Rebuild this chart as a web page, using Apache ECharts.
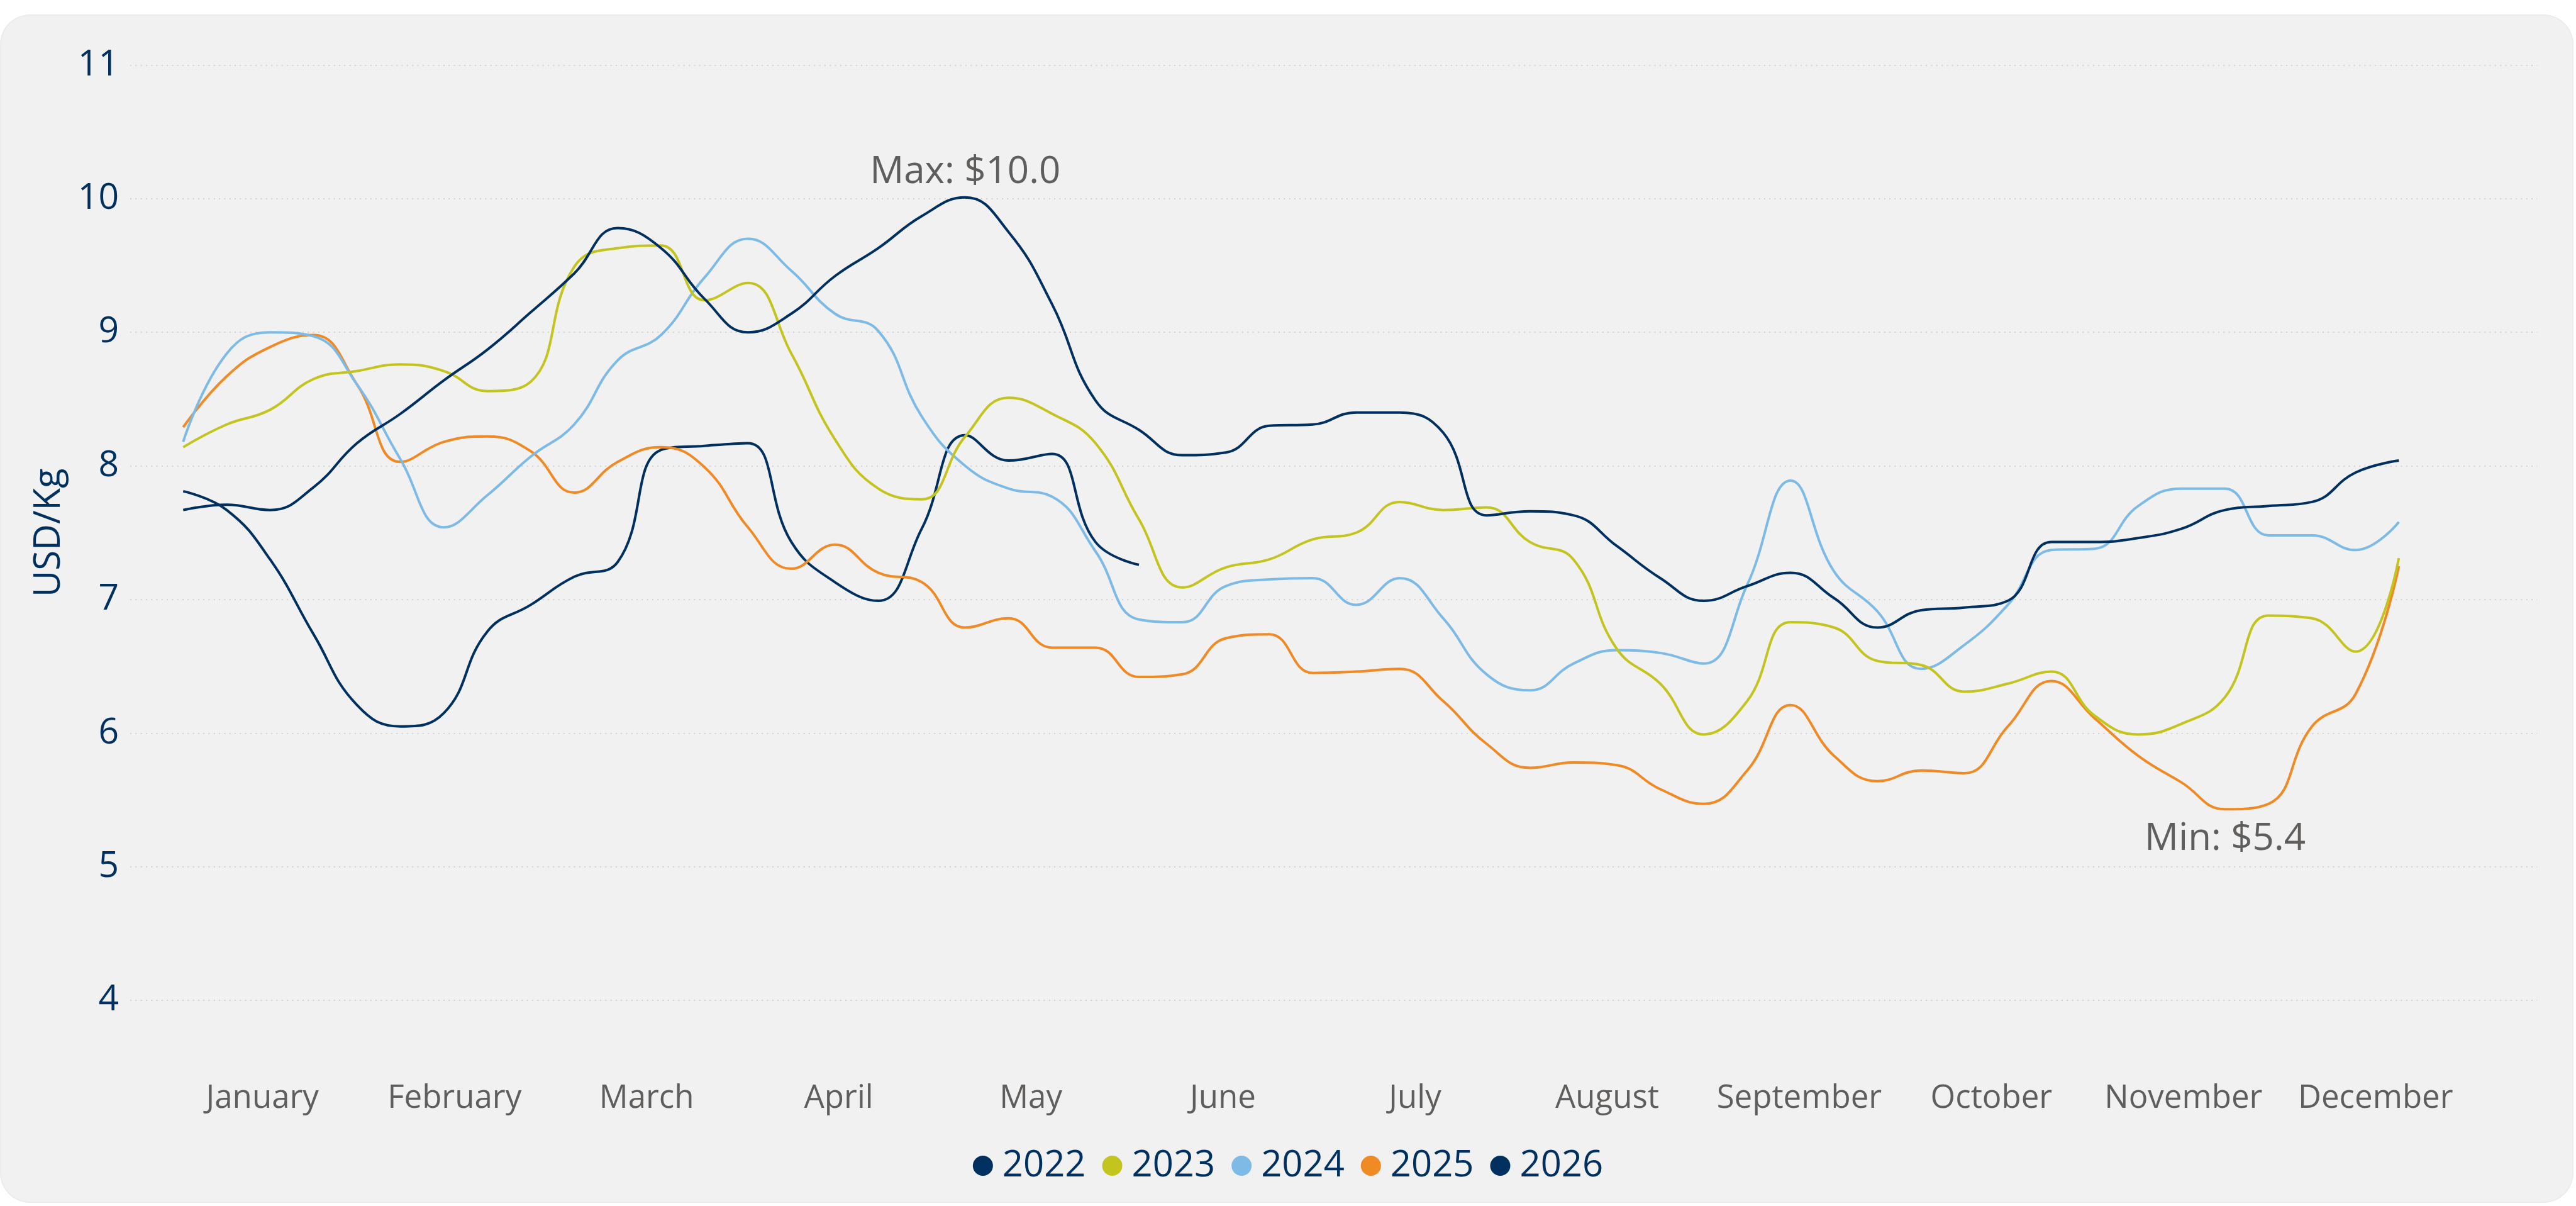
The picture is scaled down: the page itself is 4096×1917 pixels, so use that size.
<!DOCTYPE html>
<html>
<head>
<meta charset="utf-8">
<script src="https://cdn.jsdelivr.net/npm/echarts@6/dist/echarts.min.js"></script>
<style>
  html, body { margin: 0; padding: 0; background: #ffffff; width: 4096px; height: 1917px; overflow: hidden; }
  #card { position: absolute; left: 0; top: 23px; width: 4092px; height: 1889px; background: #f1f1f1; border-radius: 48px; box-shadow: inset 0 0 0 2px #ececec; }
  #chart { position: absolute; left: 0; top: 0; width: 4096px; height: 1917px; }
</style>
</head>
<body>
<div id="card"></div>
<div id="chart"></div>
<script>
// ---- data ----
const months = ['January','February','March','April','May','June','July','August','September','October','November','December'];
const weeks = [1,2,3,4,5,6,7,8,9,10,11,12,13,14,15,16,17,18,19,20,21,22,23,24,25,26,27,28,29,30,31,32,33,34,35,36,37,38,39,40,41,42,43,44,45,46,47,48,49,50,51,52];
const seriesNames = ['2022','2023','2024','2025','2026'];
const y2022 = [7.67,7.71,7.67,7.84,8.17,8.39,8.64,8.87,9.15,9.44,9.78,9.63,9.25,9.00,9.14,9.42,9.63,9.87,10.01,9.75,9.21,8.49,8.27,8.08,8.10,8.30,8.31,8.40,8.40,8.25,7.63,7.66,7.63,7.40,7.16,6.99,7.10,7.20,7.01,6.79,6.92,6.94,6.99,7.43,7.43,7.46,7.53,7.67,7.70,7.73,7.95,8.04];
const y2023 = [8.14,8.31,8.42,8.65,8.71,8.76,8.71,8.56,8.63,9.49,9.63,9.65,9.24,9.37,8.84,8.20,7.83,7.75,8.22,8.51,8.39,8.17,7.60,7.09,7.24,7.30,7.45,7.50,7.73,7.67,7.69,7.43,7.30,6.63,6.37,5.99,6.24,6.83,6.79,6.54,6.51,6.31,6.37,6.46,6.13,5.99,6.07,6.27,6.88,6.86,6.61,7.31];
const y2024 = [8.18,8.84,9.00,8.97,8.61,8.05,7.54,7.78,8.07,8.31,8.79,8.98,9.41,9.70,9.46,9.14,9.01,8.37,8.00,7.83,7.77,7.36,6.85,6.83,7.10,7.15,7.16,6.96,7.16,6.86,6.44,6.32,6.52,6.62,6.60,6.52,7.11,7.89,7.21,6.91,6.48,6.66,6.96,7.37,7.38,7.70,7.83,7.83,7.48,7.48,7.37,7.58];
const y2025 = [8.29,8.67,8.89,8.98,8.61,8.03,8.18,8.22,8.11,7.80,8.03,8.14,7.99,7.54,7.23,7.41,7.20,7.13,6.79,6.86,6.64,6.64,6.42,6.44,6.71,6.74,6.45,6.46,6.48,6.24,5.92,5.74,5.78,5.76,5.58,5.47,5.72,6.21,5.83,5.64,5.72,5.70,6.05,6.39,6.11,5.83,5.63,5.43,5.47,6.05,6.29,7.25];
const y2026 = [7.81,7.67,7.30,6.74,6.21,6.05,6.15,6.76,6.96,7.17,7.28,8.12,8.15,8.17,7.43,7.13,6.99,7.53,8.23,8.04,8.09,7.43,7.26];
const yTicks = [4,5,6,7,8,9,10,11];

// ---- style ----
const colors = ['#00305F','#C4C41F','#7DBBE6','#F08A24','#00305F'];
const navy = '#00305F';
const grayText = '#605E5C';
const FONT = '"Segoe UI","Open Sans","Noto Sans",sans-serif';

const allY = [y2022, y2023, y2024, y2025, y2026];
function pairs(arr) { return arr.map((v, i) => [weeks[i], v]); }

const series = seriesNames.map((name, k) => {
  const s = {
    name: name,
    type: 'line',
    xAxisIndex: 0,
    yAxisIndex: 0,
    data: pairs(allY[k]),
    smooth: 0.45,
    showSymbol: false,
    symbol: 'circle',
    lineStyle: { width: 4, color: colors[k] },
    itemStyle: { color: colors[k] },
    z: 10 - k
  };
  if (name === '2022') {
    s.markPoint = {
      symbol: 'circle', symbolSize: 1,
      itemStyle: { color: 'rgba(0,0,0,0)' },
      data: [{ type: 'max', valueDim: 'y' }],
      label: {
        show: true, position: 'inside', offset: [0, -40],
        formatter: p => 'Max: $' + Number(p.value).toFixed(1),
        fontSize: 60, color: grayText, fontFamily: FONT
      }
    };
  }
  if (name === '2025') {
    s.markPoint = {
      symbol: 'circle', symbolSize: 1,
      itemStyle: { color: 'rgba(0,0,0,0)' },
      data: [{ type: 'min', valueDim: 'y' }],
      label: {
        show: true, position: 'inside', offset: [0, 48],
        formatter: p => 'Min: $' + Number(p.value).toFixed(1),
        fontSize: 60, color: grayText, fontFamily: FONT
      }
    };
  }
  return s;
});

const chart = echarts.init(document.getElementById('chart'), null, { renderer: 'canvas' });
chart.setOption({
  backgroundColor: 'transparent',
  animation: false,
  textStyle: { fontFamily: FONT },
  grid: [
    { left: 207, right: 62, top: 103.5, bottom: 327, containLabel: false },
    { left: 264.5, right: 166, top: 103.5, bottom: 327, containLabel: false }
  ],
  xAxis: [
    { type: 'value', gridIndex: 0, min: -0.22, max: 55.18, show: false, splitLine: { show: false } },
    { type: 'category', gridIndex: 1, data: months, boundaryGap: true,
      axisLine: { show: false }, axisTick: { show: false }, splitLine: { show: false },
      axisLabel: { color: grayText, fontSize: 51, fontFamily: FONT, margin: 156, verticalAlign: 'middle', interval: 0 } }
  ],
  yAxis: [
    { type: 'value', gridIndex: 0, min: yTicks[0], max: yTicks[yTicks.length - 1], interval: 1,
      axisLine: { show: false }, axisTick: { show: false },
      axisLabel: { color: navy, fontSize: 57, fontFamily: FONT, margin: 18 },
      splitLine: { show: true, lineStyle: { color: '#c9c7c5', width: 1.6, type: [2, 6.3] } },
      name: 'USD/Kg', nameLocation: 'middle', nameRotate: 90, nameGap: 100,
      nameTextStyle: { color: navy, fontSize: 58, fontFamily: FONT } },
    { type: 'value', gridIndex: 1, min: yTicks[0], max: yTicks[yTicks.length - 1], show: false, splitLine: { show: false } }
  ],
  legend: {
    data: seriesNames,
    left: 'center', top: 1812,
    icon: 'circle', itemWidth: 32, itemHeight: 32, itemGap: 26,
    textStyle: { color: navy, fontSize: 58, fontFamily: FONT, lineHeight: 72, padding: [0, 0, 0, 10] }
  },
  series: series
});
</script>
</body>
</html>
